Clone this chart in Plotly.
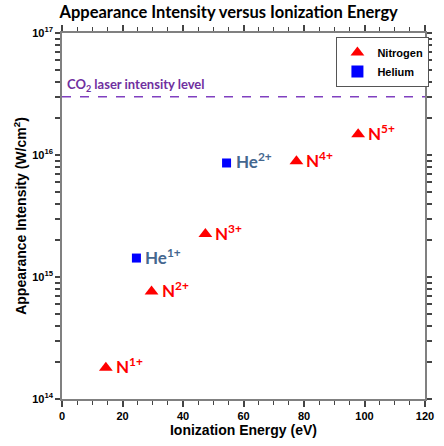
import math
import plotly.graph_objects as go

n_energy = [14.5, 29.6, 47.4, 77.5, 97.9]
n_intensity = [1.8e14, 7.6e14, 2.25e15, 8.9e15, 1.48e16]
n_labels = ["N<sup>1+</sup>", "N<sup>2+</sup>", "N<sup>3+</sup>", "N<sup>4+</sup>", "N<sup>5+</sup>"]

he_energy = [24.6, 54.4]
he_intensity = [1.43e15, 8.6e15]
he_labels = ["He<sup>1+</sup>", "He<sup>2+</sup>"]

co2_level = 3.0e16
x_range = [0, 120]
y_exponents = [14, 15, 16, 17]

tick_vals = []
tick_text = []
for e in y_exponents:
    tick_vals.append(10 ** e)
    tick_text.append("10<sup>%d</sup>" % e)
    if e != y_exponents[-1]:
        for d in range(2, 10):
            tick_vals.append(d * 10 ** e)
            tick_text.append("")

fig = go.Figure()
fig.add_trace(go.Scatter(x=x_range, y=[co2_level, co2_level], mode="lines",
                         line=dict(color="#8040C0", dash="dash", width=1.5),
                         showlegend=False, hoverinfo="skip"))
fig.add_trace(go.Scatter(x=n_energy, y=n_intensity, mode="markers", name="Nitrogen",
                         marker=dict(symbol="triangle-up", color="#FF0000", size=12)))
fig.add_trace(go.Scatter(x=he_energy, y=he_intensity, mode="markers", name="Helium",
                         marker=dict(symbol="square", color="#0000FF", size=9)))

for x, y, t in zip(n_energy, n_intensity, n_labels):
    fig.add_annotation(x=x, y=math.log10(y), text="<b>" + t + "</b>", showarrow=False,
                       xanchor="left", yanchor="middle", xshift=8, yshift=2,
                       font=dict(family="Lato, Open Sans, sans-serif", size=17, color="#FF0000"))
for x, y, t in zip(he_energy, he_intensity, he_labels):
    fig.add_annotation(x=x, y=math.log10(y), text="<b>" + t + "</b>", showarrow=False,
                       xanchor="left", yanchor="middle", xshift=7, yshift=2,
                       font=dict(family="Lato, Open Sans, sans-serif", size=17, color="#44678F"))

fig.add_annotation(x=1, y=math.log10(co2_level), text="<b>CO<sub>2</sub> laser intensity level</b>", showarrow=False,
                   xanchor="left", yanchor="bottom", yshift=1,
                   font=dict(family="Lato, Open Sans, sans-serif", size=13, color="#7030A0"))

fig.update_layout(
    width=444, height=446,
    margin=dict(l=62, r=10, t=33, b=40),
    paper_bgcolor="white", plot_bgcolor="white",
    title=dict(text="<b>Appearance Intensity versus Ionization Energy</b>", x=0.515, xanchor="center",
               y=0.985, yanchor="top",
               font=dict(family="Lato, Open Sans, sans-serif", size=16.5, color="black")),
    legend=dict(x=0.756, y=0.989, xanchor="left", yanchor="top",
                bordercolor="#555555", borderwidth=1, bgcolor="white",
                font=dict(family="Liberation Sans, Arial", size=11, color="black", weight="bold"),
                itemsizing="constant", tracegroupgap=0),
    showlegend=True,
)
fig.update_xaxes(range=x_range, dtick=20, tick0=0,
                 showline=True, linecolor="#808080", linewidth=1.5, mirror="allticks",
                 ticks="outside", ticklen=6, tickcolor="#444444", tickwidth=1.5,
                 minor=dict(dtick=5, ticks="outside", ticklen=4, tickcolor="#444444", tickwidth=1.2),
                 showgrid=False, zeroline=False,
                 tickfont=dict(family="Liberation Sans, Arial", size=11, color="black", weight="bold"),
                 title=dict(text="<b>Ionization Energy (eV)</b>", standoff=4,
                            font=dict(family="Liberation Sans, Arial", size=14, color="black")))
fig.update_yaxes(type="log", range=[14, 17], tickmode="array", tickvals=tick_vals, ticktext=tick_text,
                 showline=True, linecolor="#808080", linewidth=1.5, mirror="allticks",
                 ticks="outside", ticklen=5, tickcolor="#444444", tickwidth=1.5,
                 showgrid=False, zeroline=False,
                 tickfont=dict(family="Liberation Sans, Arial", size=11, color="black", weight="bold"),
                 title=dict(text="<b>Appearance Intensity (W/cm<sup>2</sup>)</b>", standoff=2,
                            font=dict(family="Liberation Sans, Arial", size=14, color="black")))

fig.write_html("out.html")
